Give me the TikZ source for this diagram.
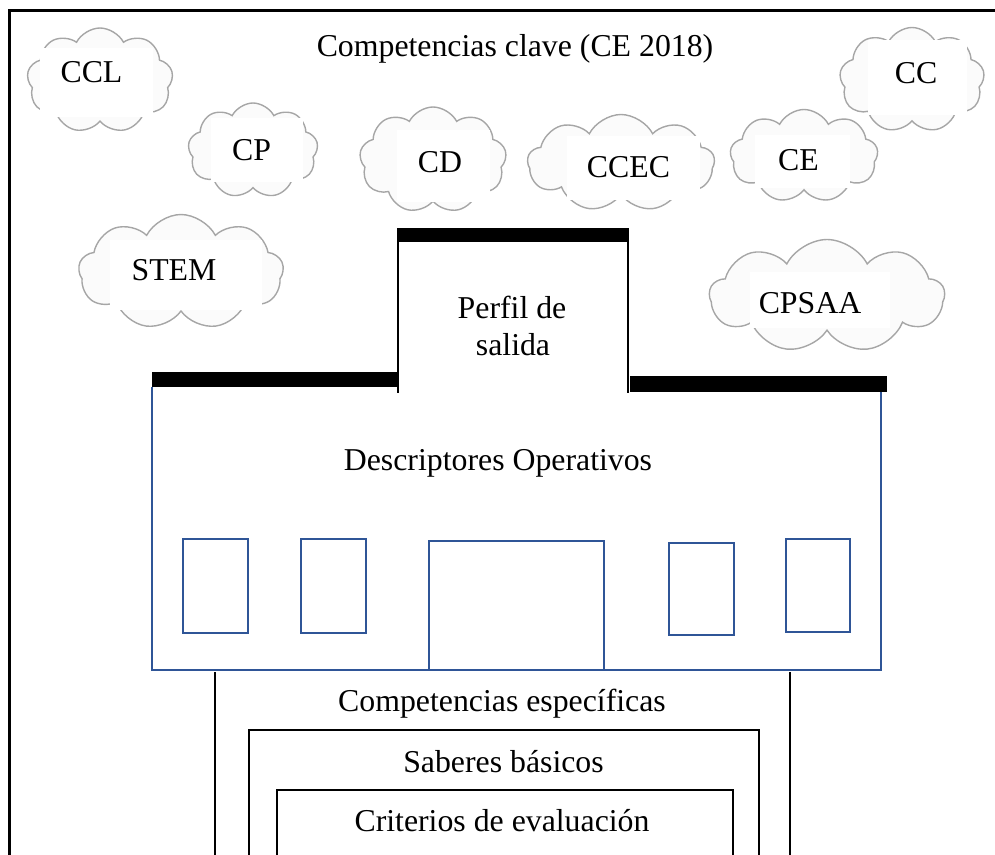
\documentclass[tikz,border=0pt]{standalone}
\usepackage{fontspec}
\setmainfont{Liberation Serif}
\usetikzlibrary{shapes.symbols}
\definecolor{wallblue}{RGB}{47,85,151}
\begin{document}
\begin{tikzpicture}[x=1pt,y=-1pt,
  lbl/.style={font=\fontsize{31.8}{38}\selectfont, inner sep=0pt, anchor=base},
  puff/.style={cloud, cloud puffs=9, cloud puff arc=125, draw=gray!70,
    fill=gray!3, line width=1.4pt, inner sep=0pt},
  frameline/.style={line width=3pt},
  boxline/.style={line width=2.6pt},
  wall/.style={draw=wallblue, line width=2.6pt},
  thinline/.style={line width=1.5pt}]
\useasboundingbox (0,0) rectangle (995,854);
\clip (0,0) rectangle (995,854);

% outer frame
\draw[frameline] (995,10) -- (9,10) -- (9,860);

% key competence clouds
\node[puff, minimum width=146pt, minimum height=105pt] (cclc) at (100,80.5) {};
\node[puff, minimum width=130pt, minimum height=95pt] (cpc) at (253,150.5) {};
\node[puff, minimum width=205pt, minimum height=115pt] (stemc) at (181,272) {};
\node[puff, minimum width=147pt, minimum height=106pt] (cdc) at (433,160) {};
\node[puff, minimum width=187pt, minimum height=97pt] (ccecc) at (621,163) {};
\node[puff, minimum width=148pt, minimum height=93pt] (cec) at (804,156) {};
\node[puff, minimum width=145pt, minimum height=105pt] (ccc) at (912,80) {};
\node[puff, minimum width=235pt, minimum height=113pt] (cpsaac) at (827,296) {};

% white text boxes laid over the clouds
\fill[white] (40,48) rectangle (153,117);
\fill[white] (211,118) rectangle (303,182);
\fill[white] (110,240) rectangle (262,310);
\fill[white] (397,130) rectangle (490,202);
\fill[white] (567,136) rectangle (700,200);
\fill[white] (755,135) rectangle (850,188);
\fill[white] (868,40) rectangle (967,115);
\fill[white] (750,272) rectangle (890,328);

\node[lbl] (ccl) at (91.5,82) {CCL};
\node[lbl] (cp) at (251.5,160) {CP};
\node[lbl] (stem) at (174,280) {STEM};
\node[lbl] (cd) at (440,172) {CD};
\node[lbl] (ccec) at (628.5,177) {CCEC};
\node[lbl] (ce) at (798.5,170) {CE};
\node[lbl] (cc) at (916,83) {CC};
\node[lbl] (cpsaa) at (810,313) {CPSAA};

\node[lbl] (title) at (515,56) {Competencias clave (CE 2018)};

% profile tower
\fill (397,228) rectangle (629,242);
\draw[thinline] (398,242) -- (398,393);
\draw[thinline] (628,242) -- (628,393);
\node[lbl] (perfil1) at (512,318) {Perfil de};
\node[lbl] (perfil2) at (513,355) {salida};

% roof bars
\fill (152,372) rectangle (397,387);
\fill (630,376) rectangle (887,392);

% descriptor wall
\draw[wall] (152,387) -- (152,670) -- (881,670) -- (881,392);
\node[lbl] (desc) at (498,470) {Descriptores Operativos};

% windows and door
\draw[wall] (183,539) rectangle (248,633);
\draw[wall] (301,539) rectangle (366,633);
\draw[wall] (429,541) rectangle (604,670);
\draw[wall] (669,543) rectangle (734,635);
\draw[wall] (786,539) rectangle (850,632);

% nested foundation boxes
\draw[boxline] (215,672) -- (215,860);
\draw[boxline] (790,672) -- (790,860);
\node[lbl] (espec) at (502,711) {Competencias específicas};

\draw[boxline] (249,860) -- (249,730) -- (759,730) -- (759,860);
\node[lbl] (saberes) at (503.5,772) {Saberes básicos};

\draw[boxline] (277,860) -- (277,790) -- (733,790) -- (733,860);
\node[lbl] (criterios) at (502,831) {Criterios de evaluación};
\end{tikzpicture}
\end{document}
